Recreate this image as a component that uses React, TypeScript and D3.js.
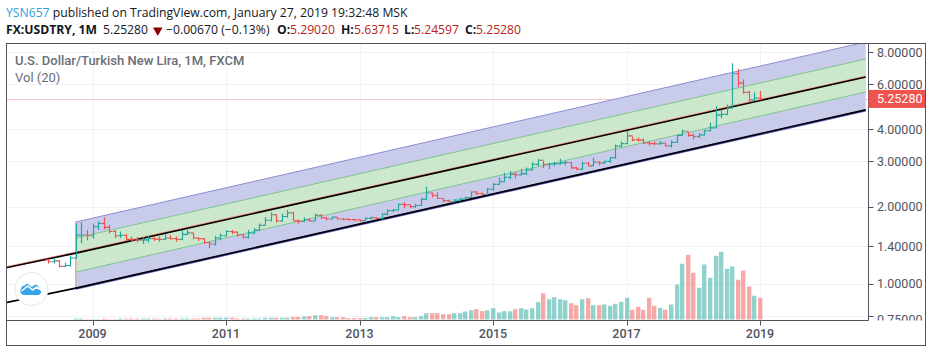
import React from "react";
import * as d3 from "d3";

const firstMonth = "2008-05";
const firstOpen = 1.24;
const closes = [
  1.22,1.23,1.17,1.18,1.26,1.55,1.55,1.54,
  1.67,1.72,1.66,1.60,1.54,1.545,1.49,1.485,1.48,1.485,1.50,1.495,
  1.49,1.51,1.50,1.49,1.56,1.58,1.51,1.50,1.45,1.43,1.51,1.54,
  1.60,1.59,1.55,1.52,1.58,1.62,1.69,1.77,1.86,1.76,1.83,1.89,
  1.76,1.75,1.78,1.76,1.85,1.81,1.79,1.82,1.79,1.785,1.78,1.775,
  1.765,1.80,1.81,1.80,1.87,1.93,1.94,2.04,2.03,2.00,2.02,2.14,
  2.26,2.21,2.15,2.11,2.09,2.12,2.14,2.17,2.28,2.25,2.23,2.34,
  2.44,2.50,2.60,2.67,2.66,2.69,2.78,2.92,3.03,2.92,2.93,2.94,
  2.96,2.97,2.83,2.80,2.95,2.88,2.98,2.96,3.00,3.10,3.44,3.52,
  3.77,3.64,3.63,3.54,3.52,3.51,3.53,3.45,3.56,3.79,3.93,3.79,
  3.75,3.80,3.95,4.05,4.54,4.57,4.84,6.60,6.05,5.57,5.21,5.29,
  5.2528,
];
const highs = [
  1.25,1.26,1.24,1.21,1.29,1.72,1.74,1.62,
  1.72,1.75,1.82,1.70,1.62,1.60,1.56,1.53,1.52,1.52,1.54,1.53,
  1.53,1.56,1.55,1.53,1.62,1.62,1.58,1.52,1.51,1.46,1.54,1.57,
  1.62,1.62,1.60,1.56,1.62,1.65,1.72,1.82,1.90,1.87,1.88,1.94,
  1.90,1.78,1.82,1.80,1.88,1.87,1.82,1.83,1.82,1.81,1.80,1.79,
  1.78,1.81,1.83,1.82,1.88,1.95,1.96,2.05,2.08,2.04,2.05,2.16,
  2.39,2.27,2.27,2.15,2.13,2.14,2.16,2.19,2.29,2.30,2.27,2.37,
  2.47,2.59,2.71,2.75,2.73,2.81,2.84,2.98,3.07,3.02,2.97,2.99,
  3.07,3.01,2.98,2.86,2.99,2.99,3.10,3.00,3.02,3.12,3.49,3.59,
  3.94,3.75,3.72,3.69,3.60,3.59,3.60,3.55,3.62,3.82,3.99,3.91,
  3.85,3.87,3.98,4.24,4.93,4.74,5.00,7.24,6.87,6.25,5.65,5.57,
  5.63715,
];
const lows = [
  1.20,1.20,1.16,1.16,1.17,1.26,1.44,1.48,
  1.50,1.62,1.63,1.57,1.51,1.51,1.47,1.46,1.45,1.43,1.45,1.47,
  1.46,1.48,1.49,1.46,1.48,1.55,1.49,1.47,1.43,1.38,1.41,1.48,
  1.53,1.56,1.53,1.50,1.50,1.56,1.61,1.69,1.75,1.73,1.75,1.81,
  1.76,1.72,1.74,1.75,1.76,1.79,1.77,1.78,1.78,1.77,1.77,1.76,
  1.74,1.76,1.79,1.78,1.78,1.85,1.90,1.93,1.97,1.97,1.98,2.01,
  2.12,2.17,2.14,2.08,2.07,2.08,2.10,2.13,2.16,2.22,2.21,2.22,
  2.30,2.44,2.49,2.55,2.58,2.65,2.66,2.78,2.88,2.83,2.80,2.87,
  2.91,2.90,2.81,2.78,2.78,2.88,2.88,2.89,2.93,2.96,3.07,3.40,
  3.51,3.59,3.58,3.51,3.45,3.48,3.50,3.43,3.40,3.54,3.76,3.74,
  3.65,3.70,3.78,3.92,4.05,4.42,4.55,4.82,5.85,5.50,5.12,5.15,
  5.24597,
];
const volumeFirstMonth = "2008-10";
const volumes = [
  1,1,0.4,
  0.4,0.4,1,0.4,0.4,1,1,1,1,1,1,1,
  0.8,1,1,1,1,1,1,1,1.8,1.8,1.8,1.8,
  1.8,1.8,1,1,1,1,1,1.8,1.8,1.8,1.8,1.8,
  2.5,2.5,
  3,3.3,4.3,4.3,3.3,2.3,2.3,2.3,1.3,1.3,
  1.3,1.3,2.3,2.3,2.3,2.3,3.3,2.3,3.3,2.3,2.3,3.3,
  6.3,6.3,6.3,5.3,5.3,6.3,6.3,8,9.3,10.3,8.3,9.3,
  11.3,7,8.3,8.3,10.3,11.3,10,11.3,17.3,26.3,20.3,22.3,
  20.3,19.3,16.3,14.3,20.3,21.3,14.3,14.3,15,13.7,15.7,17.7,
  21.7,9.7,12.7,9.7,21.7,13.7,11.7,9.7,15,35,55.7,64.7,
  46.7,31.7,55,41.7,63.7,67.7,50.7,53,39.7,49,33,23.7,
  21.7,
];

const channelMonths = ["2007-09", "2008-10", "2020-08"];
const channelMiddle = [1.15, 1.318, 6.39];
const channelBottom = [0.842, 0.963, 4.76];
const channelUpper = [1.742, 8.75];
const channelInnerUpper = [1.509, 7.51];
const channelInnerLower = [1.112, 5.59];

const priceTicks = [8, 6, 4, 3, 2, 1.4, 1, 0.75];
const yearTicks = [2009, 2011, 2013, 2015, 2017, 2019];
const lastPrice = 5.2528;
const quoteLabels = ["O:", "H:", "L:", "C:"];
const quoteValues = ["5.29020", "5.63715", "5.24597", "5.25280"];

const W = 932, H = 352;
const frame = { l: 6.5, t: 43.5, r: 925.5, b: 345.5 };
const paneR = 868.5, paneB = 320.5;
const TEAL = "#26a69a", RED = "#ef5350";
const AXIS = "#50535e";
const HEAD = "'Open Sans'";
const quoteLabelX = [277, 341, 404, 465];
const quoteValueX = [290, 354, 414, 476];

const mi = (s: string) => { const [y, m] = s.split("-").map(Number); return y * 12 + m - 1; };
const x = d3.scaleLinear().domain([2009 * 12, 2019 * 12]).range([92.5, 760]);
const y = d3.scaleLog().domain([8, 0.75]).range([52, 316]);
const vy = d3.scaleLinear().domain([0, 70]).range([319.5, 249.5]);

export default function App() {
  const start = mi(firstMonth);
  const vStart = mi(volumeFirstMonth);
  const [m0, m1, m2] = channelMonths.map(mi);
  const line = d3.line<[number, number]>().x((d) => x(d[0])).y((d) => y(d[1]));
  const ln = (ms: number[], vs: number[]) => line(ms.map((m, i) => [m, vs[i]]) as [number, number][]) || "";
  const area = (a: number[], b: number[]) =>
    d3.area<number>().x((m) => x(m)).y0((_, i) => y(a[i])).y1((_, i) => y(b[i]))([m1, m2]) || "";
  const bot = channelBottom.slice(1);

  const ohlc = closes.map((c, i) => {
    const o = i === 0 ? firstOpen : closes[i - 1];
    return { m: start + i, o, c, h: highs[i], l: lows[i], up: c >= o };
  });
  const upAt = (m: number) => ohlc[m - start].up;

  return (
    <svg width={W} height={H} style={{ position: "absolute", left: 0, top: 0, background: "#fff" }}>
      <defs>
        <clipPath id="pane"><rect x={frame.l} y={frame.t} width={paneR - frame.l} height={paneB - frame.t} /></clipPath>
        <clipPath id="axisClip"><rect x={paneR} y={frame.t} width={frame.r - paneR} height={paneB - frame.t} /></clipPath>
      </defs>
      <text x={6} y={17} fontFamily={HEAD} fontSize={12.2} fill="#131722">
        <tspan fill="#2e9fe0">YSN657</tspan> published on TradingView.com, January 27, 2019 19:32:48 MSK
      </text>
      <g fontFamily={HEAD} fontSize={12.2} fill="#131722">
        <text x={6} y={34} fontWeight={700}>FX:USDTRY, 1M</text>
        <text x={103} y={34}>5.25280</text>
        <path d="M153 27.5 h9.5 l-4.75 8.5 z" fill="#8b0000" />
        <text x={166} y={34}>−0.00670 (−0.13%)</text>
        {quoteLabels.map((l, i) => <text key={l} x={quoteLabelX[i]} y={34} fontWeight={700}>{l}</text>)}
        {quoteValues.map((v, i) => <text key={i} x={quoteValueX[i]} y={34} fill="#b71c1c">{v}</text>)}
      </g>

      <g stroke="#f0f3fa" strokeWidth={1}>
        {priceTicks.map((p) => <line key={p} x1={frame.l} x2={paneR} y1={Math.round(y(p)) + 0.5} y2={Math.round(y(p)) + 0.5} />)}
        {yearTicks.map((t) => <line key={t} x1={Math.round(x(t * 12)) + 0.5} x2={Math.round(x(t * 12)) + 0.5} y1={frame.t} y2={paneB} />)}
      </g>
      <line x1={frame.l} x2={paneR} y1={Math.round(y(lastPrice)) + 0.5} y2={Math.round(y(lastPrice)) + 0.5} stroke="#f7c6c5" />

      <text x={15} y={65} fontFamily="Roboto" fontWeight={500} fontSize={13} fill="#6a6d78">U.S. Dollar/Turkish New Lira, 1M, FXCM</text>
      <text x={15} y={82} fontFamily="Roboto" fontSize={13} fill="#6a6d78">Vol (20)</text>

      <g clipPath="url(#pane)">
        <path d={area(bot, channelUpper)} fill="#c9cbea" />
        <path d={area(channelInnerLower, channelInnerUpper)} fill="#cbe8cd" />
        <path d={ln([m1, m2], channelUpper)} fill="none" stroke="#8c8cd2" strokeWidth={1} />
        <path d={ln([m1, m2], channelInnerUpper)} fill="none" stroke="#7fc48f" strokeWidth={1} />
        <path d={ln([m1, m2], channelInnerLower)} fill="none" stroke="#7fc48f" strokeWidth={1} />
        <line x1={x(m1)} x2={x(m1)} y1={y(channelUpper[0])} y2={y(bot[0])} stroke="#e58a8f" strokeWidth={1} />
        <path d={ln([m0, m1, m2], channelMiddle)} fill="none" stroke="#f2a08a" strokeWidth={2.2} transform="translate(0,-0.5)" />
        <path d={ln([m1, m2], bot)} fill="none" stroke="#5b5bc8" strokeWidth={2.2} transform="translate(0,0.5)" />
        <path d={ln([m0, m1, m2], channelMiddle)} fill="none" stroke="#000" strokeWidth={1.6} />
        <path d={ln([m0, m1, m2], channelBottom)} fill="none" stroke="#000" strokeWidth={1.6} />

        {ohlc.map((b) => {
          const cx = Math.round(x(b.m)) + 0.5;
          const col = b.up ? TEAL : RED;
          return (
            <g key={b.m} stroke={col} strokeWidth={1.15}>
              <line x1={cx} x2={cx} y1={y(b.h)} y2={y(b.l)} />
              <line x1={cx - 2.8} x2={cx} y1={y(b.o)} y2={y(b.o)} />
              <line x1={cx} x2={cx + 2.8} y1={y(b.c)} y2={y(b.c)} />
            </g>
          );
        })}

        {volumes.map((v, i) => {
          const m = vStart + i;
          const cx = Math.round(x(m));
          return (
            <rect key={m} x={cx - 2} width={4.4} y={vy(v)} height={vy(0) - vy(v)}
              fill={upAt(m) ? TEAL : RED} fillOpacity={0.5} />
          );
        })}
      </g>

      <g>
        <circle cx={31.5} cy={289} r={16.5} fill="#fff" stroke="#e6e6e6" strokeWidth={1} />
        <path d="M24 295 a4 4 0 0 1 -3.2 -6 a4.5 4.5 0 0 1 4 -3.5 a5 5 0 0 1 2.5 -2 l4.5 3.5 l3.5 -2.5 a5 5 0 0 1 4.2 4 a3.6 3.6 0 0 1 -1 6.5 z" fill="#35a3ea" />
        <path d="M21.5 291 l6.2 -5 l5 4 l4 -3 l4.5 3.2" fill="none" stroke="#fff" strokeWidth={1.6} />
      </g>

      <rect x={frame.l} y={frame.t} width={frame.r - frame.l} height={frame.b - frame.t} fill="none" stroke={AXIS} strokeWidth={1} />
      <line x1={paneR} x2={paneR} y1={frame.t} y2={paneB} stroke={AXIS} />
      <line x1={frame.l} x2={paneR} y1={paneB} y2={paneB} stroke={AXIS} />

      <g clipPath="url(#axisClip)">
        {priceTicks.map((p, i) => (
          <g key={p}>
            <line x1={paneR} x2={paneR + 5} y1={Math.round(y(p)) + 0.5} y2={Math.round(y(p)) + 0.5} stroke={AXIS} />
            <text x={877} y={i === priceTicks.length - 1 ? 324 : y(p) + 4.5} fontFamily="Roboto" fontSize={12.5} fill={AXIS}>{p.toFixed(5)}</text>
          </g>
        ))}
      </g>
      <rect x={paneR} y={y(lastPrice) - 9} width={frame.r - paneR - 0.5} height={18} fill={RED} />
      <text x={877} y={y(lastPrice) + 4.5} fontFamily="Roboto" fontSize={12.5} fill="#fff">{lastPrice.toFixed(5)}</text>

      {yearTicks.map((t) => (
        <g key={t}>
          <line x1={Math.round(x(t * 12)) + 0.5} x2={Math.round(x(t * 12)) + 0.5} y1={paneB} y2={paneB + 5} stroke={AXIS} />
          <text x={x(t * 12)} y={338} textAnchor="middle" fontFamily="Roboto" fontWeight={500} fontSize={12.5} fill={AXIS}>{t}</text>
        </g>
      ))}
    </svg>
  );
}
